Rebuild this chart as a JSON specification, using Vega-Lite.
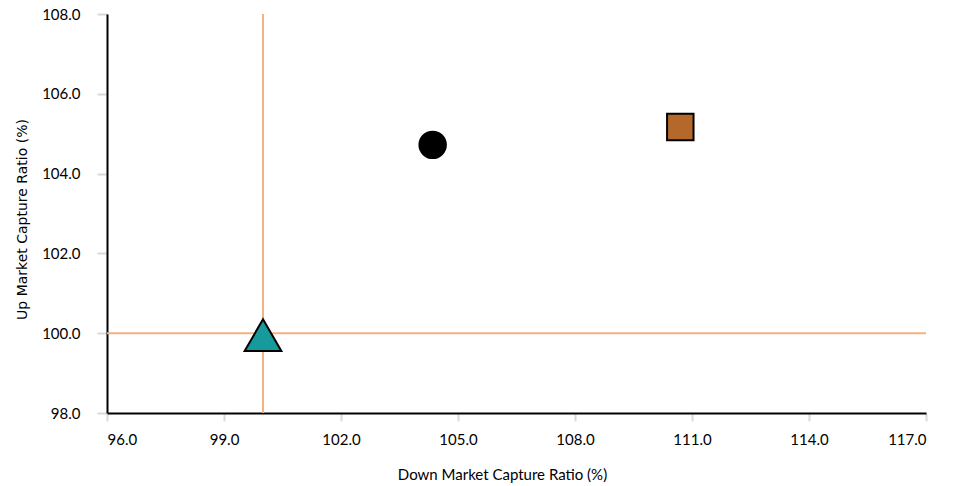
{
  "$schema": "https://vega.github.io/schema/vega-lite/v6.json",
  "width": 819,
  "height": 399,
  "autosize": "none",
  "padding": {"left": 107, "top": 14, "right": 38, "bottom": 73},
  "background": "white",
  "config": {"view": {"stroke": null}, "font": "Lato"},
  "datasets": {
    "pts": [
      {"name": "Benchmark", "down": 100.0, "up": 99.95, "shape": "triangle-up", "color": "#179A9C"},
      {"name": "Fund A", "down": 104.35, "up": 104.72, "shape": "circle", "color": "#000000"},
      {"name": "Fund B", "down": 110.7, "up": 105.17, "shape": "square", "color": "#B4692B"}
    ],
    "vline": [{"x": 100}],
    "hline": [{"y": 100}]
  },
  "encoding": {
    "x": {
      "field": "down", "type": "quantitative",
      "scale": {"domain": [96, 117], "nice": false, "zero": false},
      "axis": {
        "title": "Down Market Capture Ratio (%)",
        "values": [96, 99, 102, 105, 108, 111, 114, 117],
        "format": ".1f",
        "grid": false,
        "domainColor": "#000000", "domainWidth": 2,
        "tickColor": "#D9D9D9", "tickWidth": 2, "tickSize": 8,
        "labelFontSize": 15, "labelColor": "#000000", "labelPadding": 11,
        "titleFontSize": 15, "titleFontWeight": "normal", "titleColor": "#000000", "titlePadding": 20,
        "titleX": 395
      }
    },
    "y": {
      "field": "up", "type": "quantitative",
      "scale": {"domain": [98, 108], "nice": false, "zero": false},
      "axis": {
        "title": "Up Market Capture Ratio (%)",
        "values": [98, 100, 102, 104, 106, 108],
        "format": ".1f",
        "grid": false,
        "domainColor": "#000000", "domainWidth": 2,
        "tickColor": "#D9D9D9", "tickWidth": 2, "tickSize": 10,
        "labelFontSize": 15, "labelColor": "#000000", "labelPadding": 17,
        "titleFont": "DejaVu Sans", "titleFontSize": 14, "titleFontWeight": "normal", "titleColor": "#000000",
        "titleX": -78, "titleY": 205
      }
    }
  },
  "layer": [
    {
      "data": {"name": "vline"},
      "mark": {"type": "rule", "color": "#F4B183", "strokeWidth": 2},
      "encoding": {"x": {"field": "x", "type": "quantitative"}, "y": null}
    },
    {
      "data": {"name": "hline"},
      "mark": {"type": "rule", "color": "#F4B183", "strokeWidth": 2},
      "encoding": {"y": {"field": "y", "type": "quantitative"}, "x": null}
    },
    {
      "data": {"name": "pts"},
      "transform": [{"filter": "datum.shape !== 'triangle-up'"}],
      "mark": {"type": "point", "filled": true, "opacity": 1, "stroke": "black", "strokeWidth": 2, "size": 700},
      "encoding": {
        "shape": {"field": "shape", "type": "nominal", "scale": null},
        "color": {"field": "color", "type": "nominal", "scale": null},
        "tooltip": {"field": "name"}
      }
    },
    {
      "data": {"name": "pts"},
      "transform": [{"filter": "datum.shape === 'triangle-up'"}],
      "mark": {"type": "point", "filled": true, "opacity": 1, "stroke": "black", "strokeWidth": 2, "size": 1350},
      "encoding": {
        "shape": {"field": "shape", "type": "nominal", "scale": null},
        "color": {"field": "color", "type": "nominal", "scale": null},
        "tooltip": {"field": "name"}
      }
    }
  ]
}
